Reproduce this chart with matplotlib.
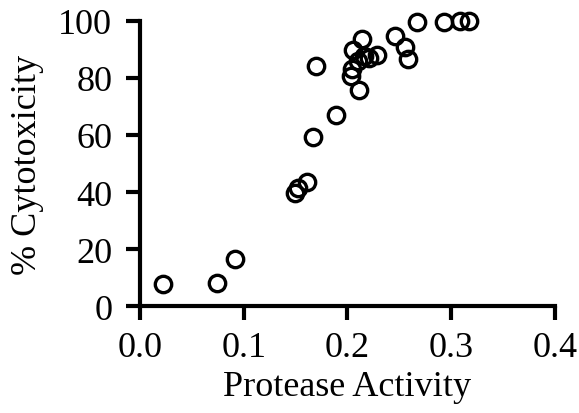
import matplotlib
matplotlib.use("Agg")
import matplotlib.pyplot as plt

# values
protease = [0.022, 0.074, 0.092, 0.149, 0.152, 0.161, 0.167, 0.170, 0.189,
            0.211, 0.2035, 0.2045, 0.205, 0.214, 0.210, 0.216, 0.221, 0.228,
            0.2455, 0.255, 0.258, 0.267, 0.293, 0.308, 0.317]
cytotox = [7.8, 8.2, 16.5, 39.6, 41.5, 43.5, 59.4, 84.3, 67.0,
           75.6, 80.6, 83.2, 89.6, 93.7, 86.0, 87.8, 86.9, 88.1,
           94.5, 90.8, 86.7, 99.5, 99.5, 99.8, 99.8]
x_ticks = [0.0, 0.1, 0.2, 0.3, 0.4]
y_ticks = [0, 20, 40, 60, 80, 100]

plt.rcParams['font.family'] = ['Liberation Serif', 'DejaVu Serif']
plt.rcParams['font.size'] = 26

fig = plt.figure(figsize=(5.79, 4.14), dpi=100)
ax = fig.add_axes([0.2418, 0.2577, 0.7167, 0.69])

ax.plot(protease, cytotox, linestyle="none", marker="o", markersize=11.8,
        markerfacecolor="none", markeredgecolor="black", markeredgewidth=2.4,
        clip_on=False)

ax.set_xlim(0, 0.4)
ax.set_ylim(0, 100)
ax.set_xticks(x_ticks)
ax.set_xticklabels([f"{t:.1f}" for t in x_ticks])
ax.set_yticks(y_ticks)

for side in ["top", "right"]:
    ax.spines[side].set_visible(False)
for side in ["left", "bottom"]:
    ax.spines[side].set_linewidth(3)
ax.tick_params(direction="out", length=10, width=3)
ax.tick_params(axis="x", pad=8)
ax.tick_params(axis="y", pad=10)

ax.set_xlabel("Protease Activity", labelpad=4)
ax.set_ylabel("% Cytotoxicity", labelpad=10)

fig.savefig("out.png", dpi=100)
